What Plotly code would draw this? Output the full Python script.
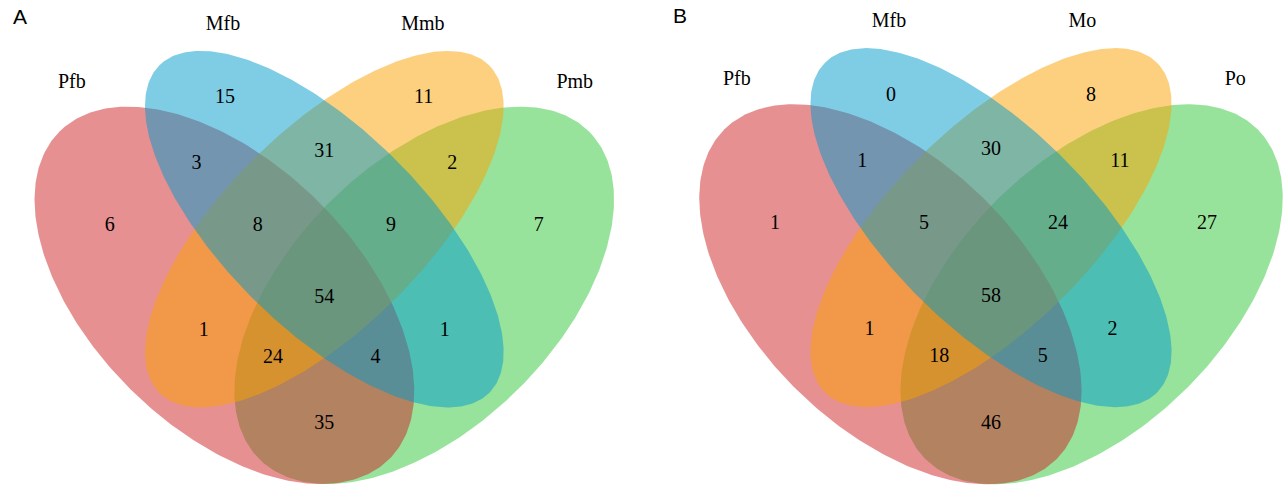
import numpy as np
import plotly.graph_objects as go

# ---- data -------------------------------------------------------------
# Region order: single sets, pairwise, triple and the four-way intersection
regions = [
    "S1", "S2", "S3", "S4",
    "S1S2", "S2S3", "S3S4",
    "S1S2S3", "S2S3S4", "S1S2S3S4",
    "S1S3", "S2S4",
    "S1S3S4", "S1S2S4", "S1S4",
]

sets_a = ["Pfb", "Mfb", "Mmb", "Pmb"]
counts_a = [6, 15, 11, 7, 3, 31, 2, 8, 9, 54, 1, 1, 24, 4, 35]

sets_b = ["Pfb", "Mfb", "Mo", "Po"]
counts_b = [1, 0, 8, 27, 1, 30, 11, 5, 24, 58, 1, 2, 18, 5, 46]

panel_letters = ["A", "B"]

# ---- geometry of the four-ellipse Venn layout (unit square) ----------
# (cx, cy, semi-major, semi-minor, rotation in degrees)
ellipses = [
    (0.35, 0.47, 0.35, 0.20, 135),   # set 1
    (0.50, 0.57, 0.35, 0.15, 135),   # set 2
    (0.50, 0.57, 0.35, 0.15, 45),    # set 3
    (0.65, 0.47, 0.35, 0.20, 45),    # set 4
]
fills = [
    "rgba(205,33,37,0.5)",
    "rgba(0,153,204,0.5)",
    "rgba(251,161,0,0.5)",
    "rgba(50,200,55,0.5)",
]
draw_order = [3, 0, 2, 1]

label_pos = {
    "S1": (0.178, 0.575), "S2": (0.351, 0.768), "S3": (0.649, 0.768), "S4": (0.822, 0.575),
    "S1S2": (0.308, 0.668), "S2S3": (0.500, 0.687), "S3S4": (0.692, 0.668),
    "S1S2S3": (0.400, 0.575), "S2S3S4": (0.600, 0.575), "S1S2S3S4": (0.500, 0.466),
    "S1S3": (0.319, 0.416), "S2S4": (0.681, 0.416),
    "S1S3S4": (0.423, 0.376), "S1S2S4": (0.577, 0.376), "S1S4": (0.500, 0.275),
}
# set names: left pair centred, right pair anchored at their left edge
cat_pos = [(0.121, 0.791), (0.348, 0.878), (0.6155, 0.878), (0.8485, 0.791)]
cat_anchor = ["middle center", "middle center", "middle right", "middle right"]

W, H = 1287, 486
# per panel: pixel centre of the unit square and pixels per unit (x, y)
panels = [
    dict(cx=324.3, cy=275.5, sx=666.0, sy=662.0, dom=[0.0, 0.5]),
    dict(cx=991.0, cy=274.3, sx=670.6, sy=666.7, dom=[0.5, 1.0]),
]


def ellipse_xy(cx, cy, a, b, rot, n=360):
    t = np.linspace(0, 2 * np.pi, n)
    r = np.deg2rad(rot)
    x = cx + a * np.cos(t) * np.cos(r) - b * np.sin(t) * np.sin(r)
    y = cy + a * np.cos(t) * np.sin(r) + b * np.sin(t) * np.cos(r)
    return x, y


serif = "Liberation Serif, Times New Roman, serif"
fig = go.Figure()

for p, (names, counts) in enumerate([(sets_a, counts_a), (sets_b, counts_b)]):
    xa = "x" if p == 0 else "x2"
    ya = "y" if p == 0 else "y2"
    for i in draw_order:
        ex, ey = ellipse_xy(*ellipses[i])
        fig.add_trace(go.Scatter(
            x=ex, y=ey, mode="lines", fill="toself", fillcolor=fills[i],
            line=dict(width=0), hoverinfo="skip", showlegend=False,
            xaxis=xa, yaxis=ya,
        ))
    fig.add_trace(go.Scatter(
        x=[label_pos[r][0] for r in regions],
        y=[label_pos[r][1] for r in regions],
        text=[str(v) for v in counts], mode="text",
        textfont=dict(family=serif, size=20, color="#000000"),
        hoverinfo="skip", showlegend=False, xaxis=xa, yaxis=ya,
    ))
    fig.add_trace(go.Scatter(
        x=[c[0] for c in cat_pos], y=[c[1] for c in cat_pos],
        text=names, mode="text", textposition=cat_anchor,
        textfont=dict(family=serif, size=20, color="#000000"),
        hoverinfo="skip", showlegend=False, xaxis=xa, yaxis=ya,
    ))

layout_axes = {}
for p, pn in enumerate(panels):
    dom = pn["dom"]
    px0, px1 = dom[0] * W, dom[1] * W
    xr = [0.5 + (px0 - pn["cx"]) / pn["sx"], 0.5 + (px1 - pn["cx"]) / pn["sx"]]
    yr = [0.5 - (H - pn["cy"]) / pn["sy"], 0.5 + pn["cy"] / pn["sy"]]
    sfx = "" if p == 0 else "2"
    layout_axes["xaxis" + sfx] = dict(domain=dom, range=xr, visible=False,
                                      fixedrange=True, anchor="y" + sfx)
    layout_axes["yaxis" + sfx] = dict(domain=[0, 1], range=yr, visible=False,
                                      fixedrange=True, anchor="x" + sfx)

letter_font = dict(family="Liberation Sans, Arial, sans-serif", size=21, color="#000000")
fig.update_layout(
    width=W, height=H,
    margin=dict(l=0, r=0, t=0, b=0),
    paper_bgcolor="white", plot_bgcolor="white",
    showlegend=False,
    annotations=[
        dict(text=panel_letters[0], x=19.7 / W, y=1 - 16.5 / H, xref="paper", yref="paper",
             showarrow=False, xanchor="center", yanchor="middle", font=letter_font),
        dict(text=panel_letters[1], x=680 / W, y=1 - 16 / H, xref="paper", yref="paper",
             showarrow=False, xanchor="center", yanchor="middle", font=letter_font),
    ],
    **layout_axes,
)

fig.write_html("out.html", config={"displayModeBar": False})
